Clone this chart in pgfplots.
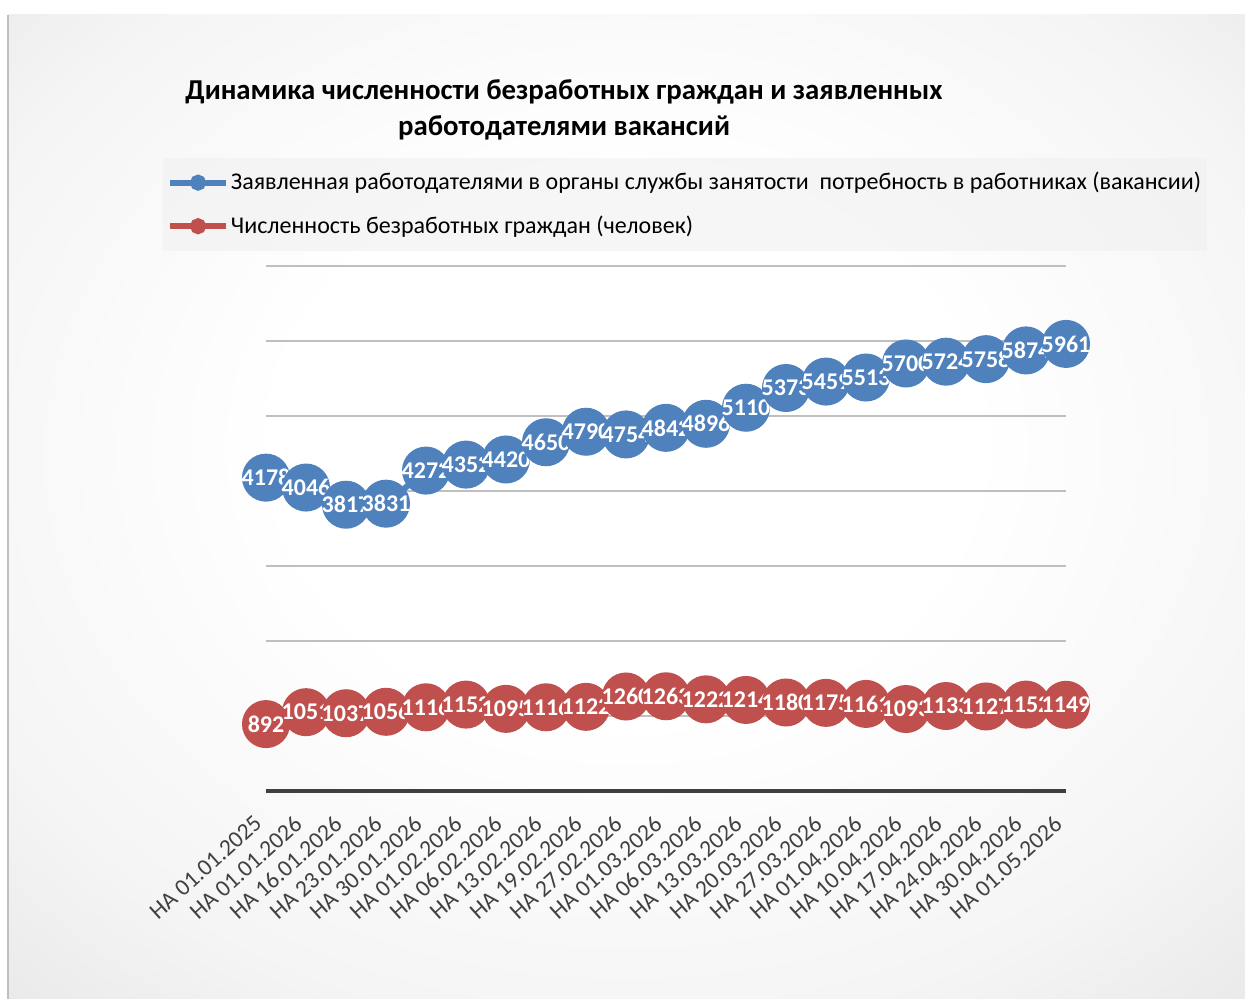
\documentclass[border=0pt]{standalone}
\usepackage{fontspec}
\setmainfont{Carlito}
\usepackage{pgfplots}
\pgfplotsset{compat=1.18}
\definecolor{vacblue}{HTML}{4F81BD}
\definecolor{unred}{HTML}{C0504D}
\definecolor{ticktext}{HTML}{404040}
\pgfdeclareradialshading{chartbg}{\pgfpoint{0bp}{4bp}}{%
  color(0bp)=(white); color(14bp)=(white); color(29bp)=(black!4); color(40bp)=(black!10); color(50bp)=(black!17); color(72bp)=(black!28)}
\begin{document}
\begin{tikzpicture}
% page: 1px = 0.5pt
\useasboundingbox (0,0) rectangle (622.5pt,499.5pt);
\fill[white] (0,0) rectangle (622.5pt,499.5pt);
\shade[shading=chartbg] (4pt,0pt) rectangle (622.5pt,492pt);
\draw[black!25, line width=1pt] (4pt,0pt) -- (4pt,492pt);
\begin{axis}[
  at={(133pt,104pt)}, anchor=south west,
  scale only axis, width=400pt, height=262.5pt,
  xmin=0, xmax=20, ymin=0, ymax=7000,
  clip=false,
  axis lines*=left, separate axis lines,
  y axis line style={draw=none},
  x axis line style={-, draw=ticktext, line width=2pt},
  ytick={0,1000,...,7000}, yticklabels={},
  ymajorgrids, grid style={black!25, line width=0.75pt},
  major tick length=0pt,
  xtick={0,...,20},
  xticklabels={НА 01.01.2025, НА 01.01.2026, НА 16.01.2026, НА 23.01.2026, НА 30.01.2026, НА 01.02.2026, НА 06.02.2026, НА 13.02.2026, НА 19.02.2026, НА 27.02.2026, НА 01.03.2026, НА 06.03.2026, НА 13.03.2026, НА 20.03.2026, НА 27.03.2026, НА 01.04.2026, НА 10.04.2026, НА 17.04.2026, НА 24.04.2026, НА 30.04.2026, НА 01.05.2026},
  xticklabel style={xshift=-6.5pt, yshift=-10pt, rotate=42, anchor=north east, font=\fontsize{11.8pt}{14pt}\selectfont, text=ticktext, inner sep=1pt},
  title={Динамика численности безработных граждан и заявленных\\работодателями вакансий},
  title style={at={(0.3725,1.274)}, anchor=center, align=center, font=\fontsize{14.4pt}{18pt}\selectfont\bfseries},
  legend style={at={(-0.129,1.2057)}, anchor=north west, draw=none, fill=black!6, fill opacity=0.6, text opacity=1, font=\fontsize{12pt}{14pt}\selectfont, row sep=7.5pt, inner xsep=2pt, inner ysep=5pt, nodes={inner xsep=1pt}},
  legend cell align=left,
  legend image code/.code={\draw[#1, mark repeat=2, mark phase=2] plot coordinates {(0cm,0cm) (0.49cm,0cm) (0.98cm,0cm)};},
  nodes near coords={\pgfmathprintnumber[1000 sep={},assume math mode=true,fixed,precision=0]{\pgfplotspointmeta}},
  nodes near coords align=center,
  every node near coord/.append style={anchor=center, text=white, font=\fontsize{12pt}{13pt}\selectfont\bfseries, inner sep=0pt},
]
\addlegendimage{vacblue, line width=3pt, mark=*, mark size=2.5pt}
\addlegendentry{Заявленная работодателями в органы службы занятости~ потребность в работниках (вакансии)}
\addlegendimage{unred, line width=3pt, mark=*, mark size=2.5pt}
\addlegendentry{Численность безработных граждан (человек)}
\addplot[forget plot, vacblue, line width=3pt, mark=*, mark size=10.5pt, mark options={fill=vacblue, draw=vacblue}]
  coordinates {(0,4178) (1,4046) (2,3817) (3,3831) (4,4272) (5,4352) (6,4420) (7,4650) (8,4790) (9,4754) (10,4842) (11,4896) (12,5110) (13,5373) (14,5459) (15,5513) (16,5700) (17,5724) (18,5758) (19,5874) (20,5961)};
\addplot[forget plot, unred, line width=3pt, mark=*, mark size=10.5pt, mark options={fill=unred, draw=unred}]
  coordinates {(0,892) (1,1051) (2,1037) (3,1056) (4,1116) (5,1152) (6,1095) (7,1116) (8,1122) (9,1260) (10,1263) (11,1222) (12,1214) (13,1180) (14,1175) (15,1161) (16,1093) (17,1133) (18,1127) (19,1152) (20,1149)};
\end{axis}
\end{tikzpicture}
\end{document}
